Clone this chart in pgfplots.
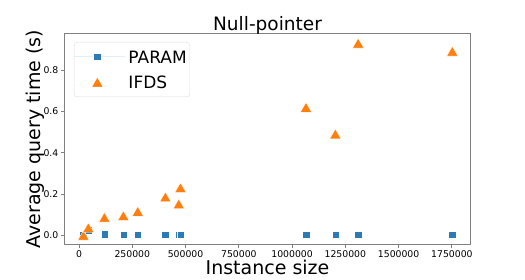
\documentclass[border=0pt]{standalone}
\usepackage{pgfplots}
\pgfplotsset{compat=1.18}
\usepackage{fontspec}
\setmainfont{DejaVu Sans}
\definecolor{tabblue}{RGB}{44,123,182}
\definecolor{taborange}{RGB}{255,127,14}
\definecolor{spine}{RGB}{128,128,128}
\begin{document}
\begin{tikzpicture}[x=1pt,y=1pt]
\useasboundingbox (0,0) rectangle (525,280);
\begin{axis}[
  at={(65pt,35pt)}, anchor=south west,
  scale only axis, width=405pt, height=211.7pt,
  xmin=-66000, xmax=1835000,
  ymin=-0.047, ymax=0.979,
  axis line style={spine, line width=1pt},
  tick style={spine, line width=0.8pt},
  tick align=outside, major tick length=3.5pt,
  xtick pos=bottom, ytick pos=left,
  scaled x ticks=false, scaled y ticks=false,
  xtick={0,250000,500000,750000,1000000,1250000,1500000,1750000},
  xticklabels={0,250000,500000,750000,1000000,1250000,1500000,1750000},
  ytick={0,0.2,0.4,0.6,0.8},
  yticklabels={0.0,0.2,0.4,0.6,0.8},
  tick label style={font=\fontsize{9.3}{11}\selectfont, text=black},
  xticklabel style={inner sep=2pt},
  yticklabel style={inner sep=2pt, xshift=-1pt},
  legend style={at={(0.0222,0.959)}, anchor=north west,
    draw=black!13, rounded corners=3pt, fill=white,
    inner xsep=0pt, inner ysep=8.5pt, row sep=12.9pt,
    font=\fontsize{17}{20}\selectfont,
    nodes={inner ysep=0pt, inner xsep=3pt, text height=12.4pt, text depth=0pt}},
  legend cell align=left,
  legend image code/.code={%
    \path (0pt,0pt) -- (51pt,0pt);
    \draw[#1] plot coordinates {(23pt,0pt)};},
]
\addplot[only marks, mark=square*, mark size=3.7pt, draw=white, line width=0.3pt, fill=tabblue, mark options={fill=tabblue, draw=white}]
coordinates {
(20000,0.001) (44000,0.025) (119000,0.006) (208000,0.003) (275500,0.003)
(405000,0.002) (468000,0.002) (476000,0.002) (1065000,0.002) (1203000,0.002)
(1310000,0.002) (1752000,0.003)
};
\addlegendentry{PARAM}
\addplot[only marks, mark=triangle*, mark size=6.4pt, draw=white, line width=0.3pt, fill=taborange, mark options={fill=taborange, draw=white, yshift=-1.6pt}]
coordinates {
(20300,0.0) (43700,0.037) (119000,0.087) (208000,0.095) (275500,0.116)
(405000,0.186) (468000,0.152) (476000,0.231) (1065000,0.620) (1203000,0.491)
(1310000,0.931) (1752000,0.892)
};
\addlegendentry{IFDS}
\end{axis}
\node[anchor=base, font=\fontsize{18.5}{22}\selectfont] at (267.5,249) {Null-pointer};
\node[anchor=base, font=\fontsize{19}{22}\selectfont] at (267.5,5) {Instance size};
\node[anchor=base, rotate=90, font=\fontsize{19}{22}\selectfont] at (40,140.85) {Average query time (s)};
\end{tikzpicture}
\end{document}
